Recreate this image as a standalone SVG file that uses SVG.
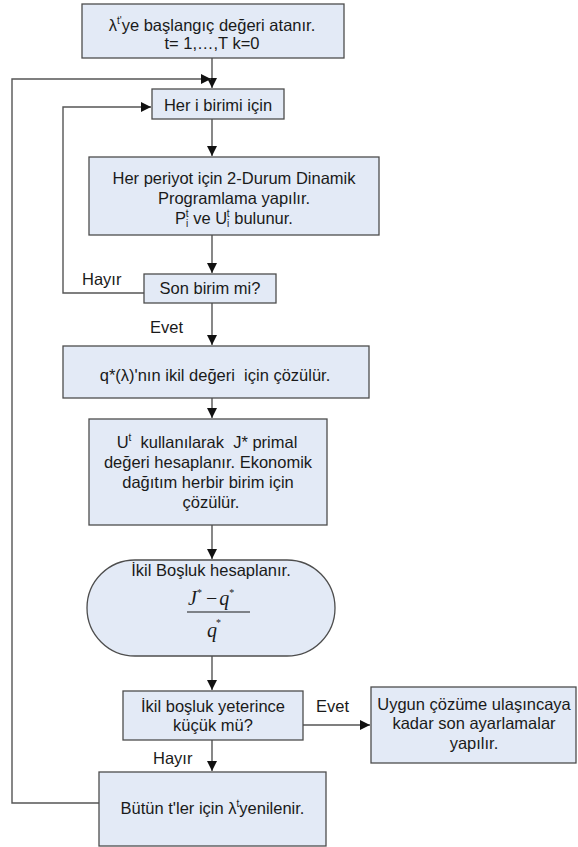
<svg xmlns="http://www.w3.org/2000/svg" width="578" height="847" viewBox="0 0 578 847">
<defs>
<style>
.box{fill:#e3eaf6;stroke:#4d4d4d;stroke-width:1.3}
.t{font-family:"Liberation Sans",Arial,sans-serif;font-size:16.5px;fill:#1a1a1a;text-anchor:middle}
.lbl{font-family:"Liberation Sans",Arial,sans-serif;font-size:16.5px;fill:#1a1a1a}
.sup{font-size:10px}
.m{font-family:"Liberation Serif","Times New Roman",serif;font-style:italic;font-size:20px;fill:#1a1a1a}
.up{font-style:normal;font-size:10px}
.conn{fill:none;stroke:#555;stroke-width:1.4}
</style>
<marker id="ah" markerUnits="userSpaceOnUse" markerWidth="10" markerHeight="10" refX="10" refY="5" orient="auto">
<path d="M0,0 L10,5 L0,10 z" fill="#111"/>
</marker>
</defs>
<rect width="578" height="847" fill="#ffffff"/>
<g id="connectors">
<path class="conn" d="M212,58 V88" marker-end="url(#ah)"/>
<path class="conn" d="M99,803 H12 V79 H211" marker-end="url(#ah)"/>
<path class="conn" d="M212,119 V156" marker-end="url(#ah)"/>
<path class="conn" d="M212,235 V273" marker-end="url(#ah)"/>
<path class="conn" d="M144,293 H63 V107 H151" marker-end="url(#ah)"/>
<path class="conn" d="M212,303 V345" marker-end="url(#ah)"/>
<path class="conn" d="M212,398 V418" marker-end="url(#ah)"/>
<path class="conn" d="M212,525 V559" marker-end="url(#ah)"/>
<path class="conn" d="M212,656 V690" marker-end="url(#ah)"/>
<path class="conn" d="M303,725 H370" marker-end="url(#ah)"/>
<path class="conn" d="M212,740 V771" marker-end="url(#ah)"/>
<text class="lbl" x="82" y="285">Hayır</text>
<text class="lbl" x="150" y="333">Evet</text>
<text class="lbl" x="316" y="712">Evet</text>
<text class="lbl" x="153" y="764">Hayır</text>
</g>
<g id="n1">
<rect class="box" x="82" y="4" width="262" height="54"/>
<text class="t" x="212" y="31">λ<tspan class="sup" dy="-7">t'</tspan><tspan dy="7">ye başlangıç değeri atanır.</tspan></text>
<text class="t" x="212" y="49">t= 1,…,T k=0</text>
</g>
<g id="n2">
<rect class="box" x="152" y="89" width="132" height="30"/>
<text class="t" x="218" y="111">Her i birimi için</text>
</g>
<g id="n3">
<rect class="box" x="89" y="157" width="290" height="78"/>
<text class="t" x="234" y="184">Her periyot için 2-Durum Dinamik</text>
<text class="t" x="234" y="204">Programlama yapılır.</text>
<text class="t" x="234" y="224">P<tspan class="sup" dy="3">i</tspan><tspan class="sup" dx="-2.5" dy="-10">t</tspan><tspan dy="7"> ve U</tspan><tspan class="sup" dy="3">i</tspan><tspan class="sup" dx="-2.5" dy="-10">t</tspan><tspan dy="7"> bulunur.</tspan></text>
</g>
<g id="n4">
<rect class="box" x="144" y="274" width="132" height="29"/>
<text class="t" x="210" y="294">Son birim mi?</text>
</g>
<g id="n5">
<rect class="box" x="63" y="346" width="306" height="52"/>
<text class="t" x="215" y="381" xml:space="preserve">q*(λ)'nın ikil değeri  için çözülür.</text>
</g>
<g id="n6">
<rect class="box" x="89" y="419" width="238" height="106"/>
<text class="t" x="207" y="448" xml:space="preserve">U<tspan class="sup" dy="-7">t</tspan><tspan dy="7">  kullanılarak  J* primal</tspan></text>
<text class="t" x="208" y="468">değeri hesaplanır. Ekonomik</text>
<text class="t" x="208" y="488">dağıtım herbir birim için</text>
<text class="t" x="211" y="508">çözülür.</text>
</g>
<g id="n7">
<rect class="box" x="87" y="560" width="248" height="96" rx="48" ry="48"/>
<text class="t" x="211" y="576">İkil Boşluk hesaplanır.</text>
<text class="m" x="188" y="605">J<tspan class="up" dy="-9">*</tspan><tspan dx="4" dy="9" style="font-style:normal">−</tspan><tspan dx="2">q</tspan><tspan class="up" dy="-9">*</tspan></text>
<line x1="187" y1="612" x2="250" y2="612" stroke="#1a1a1a" stroke-width="1.2"/>
<text class="m" x="207" y="637">q<tspan class="up" dx="-1" dy="-11">*</tspan></text>
</g>
<g id="n8">
<rect class="box" x="123" y="691" width="180" height="49"/>
<text class="t" x="213" y="712">İkil boşluk yeterince</text>
<text class="t" x="213" y="731">küçük mü?</text>
</g>
<g id="n9">
<rect class="box" x="371" y="687" width="205" height="76"/>
<text class="t" x="474" y="710">Uygun çözüme ulaşıncaya</text>
<text class="t" x="474" y="729">kadar son ayarlamalar</text>
<text class="t" x="474" y="749">yapılır.</text>
</g>
<g id="n10">
<rect class="box" x="99" y="772" width="227" height="74"/>
<text class="t" x="212.5" y="814">Bütün t'ler için λ<tspan class="sup" dy="-7">t</tspan><tspan dy="7">yenilenir.</tspan></text>
</g>
</svg>
